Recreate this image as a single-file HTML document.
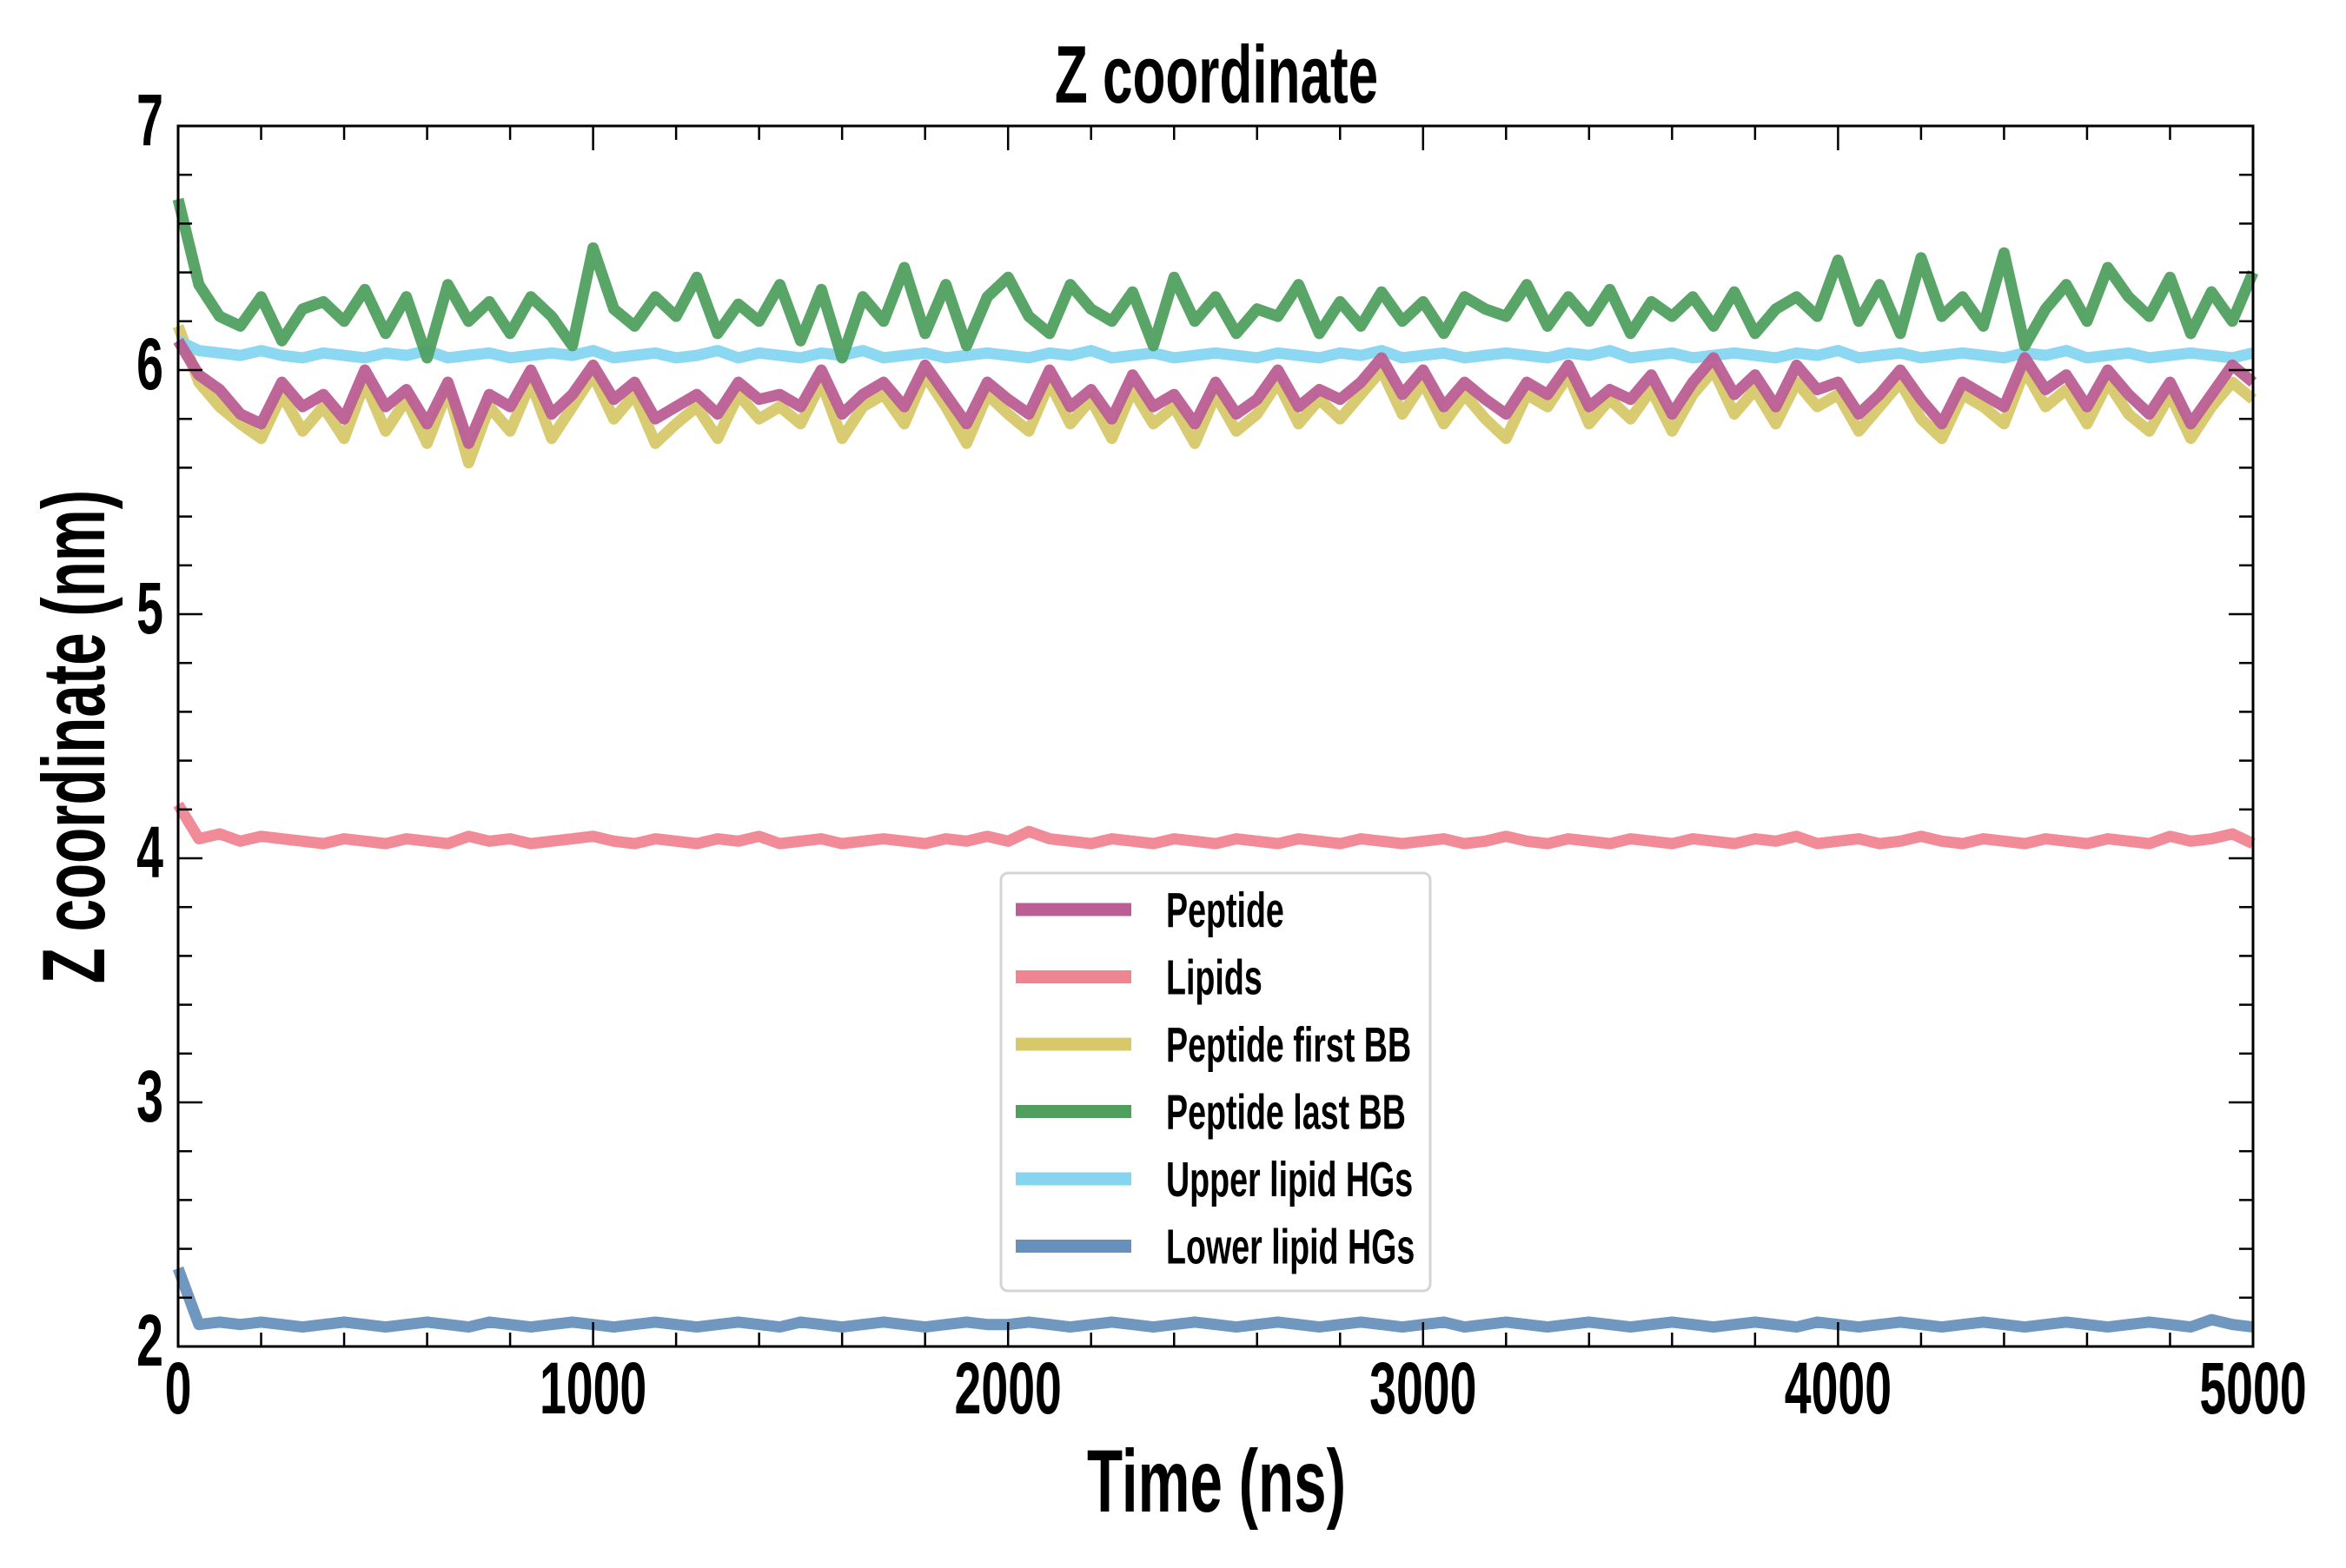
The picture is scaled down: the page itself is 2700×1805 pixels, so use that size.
<!DOCTYPE html>
<html><head><meta charset="utf-8"><style>
html,body{margin:0;padding:0;background:#fff;}
svg text{font-family:"Liberation Sans",sans-serif;font-weight:bold;fill:#000;}
</style></head><body>
<svg id="chart" width="2700" height="1800" xmlns="http://www.w3.org/2000/svg">
<rect width="2700" height="1800" fill="#fff"/>
<g id="series"></g>
<g id="axes"></g>
<text x="0" y="0" font-size="94" text-anchor="middle" transform="translate(1400,118) scale(0.66,1)">Z coordinate</text>
<text x="0" y="0" font-size="102" text-anchor="middle" transform="translate(1400,1740) scale(0.66,1)">Time (ns)</text>
<text x="0" y="0" font-size="102" text-anchor="middle" transform="translate(120,848) rotate(-90) scale(0.66,1)">Z coordinate (nm)</text>
<g id="legend"></g>
</svg>
<script>
const xTicks=[0,1000,2000,3000,4000,5000];
const yTicks=[2,3,4,5,6,7];
const seriesNames=["Peptide","Lipids","Peptide first BB","Peptide last BB","Upper lipid HGs","Lower lipid HGs"];
const green=[6.7,6.35,6.22,6.18,6.3,6.12,6.25,6.28,6.2,6.33,6.15,6.3,6.05,6.35,6.2,6.28,6.15,6.3,6.22,6.1,6.5,6.25,6.18,6.3,6.22,6.38,6.15,6.27,6.2,6.35,6.12,6.33,6.05,6.3,6.2,6.42,6.15,6.35,6.1,6.3,6.38,6.22,6.15,6.35,6.25,6.2,6.32,6.1,6.38,6.2,6.3,6.15,6.25,6.22,6.35,6.15,6.28,6.18,6.32,6.2,6.28,6.15,6.3,6.25,6.22,6.35,6.18,6.3,6.2,6.33,6.15,6.28,6.22,6.3,6.18,6.32,6.15,6.25,6.3,6.22,6.45,6.2,6.35,6.15,6.46,6.22,6.3,6.18,6.48,6.1,6.25,6.35,6.2,6.42,6.3,6.22,6.38,6.15,6.32,6.2,6.4];
const peptide=[6.12,5.98,5.92,5.82,5.78,5.95,5.85,5.9,5.8,6.0,5.85,5.92,5.78,5.95,5.7,5.9,5.85,6.0,5.82,5.9,6.02,5.88,5.95,5.8,5.85,5.9,5.82,5.95,5.88,5.9,5.85,6.0,5.82,5.9,5.95,5.85,6.02,5.9,5.78,5.95,5.88,5.82,6.0,5.85,5.92,5.8,5.98,5.85,5.9,5.78,5.95,5.82,5.88,6.0,5.85,5.92,5.88,5.95,6.05,5.9,6.0,5.85,5.95,5.88,5.82,5.95,5.9,6.02,5.85,5.92,5.88,5.98,5.82,5.95,6.05,5.9,5.98,5.85,6.02,5.92,5.95,5.82,5.9,6.0,5.88,5.78,5.95,5.9,5.85,6.05,5.92,5.98,5.85,6.0,5.9,5.82,5.95,5.78,5.9,6.02,5.95];
const firstBB=[6.18,5.95,5.85,5.78,5.72,5.9,5.75,5.85,5.72,5.95,5.75,5.88,5.7,5.92,5.62,5.85,5.75,5.95,5.72,5.85,5.98,5.8,5.9,5.7,5.78,5.85,5.72,5.9,5.8,5.85,5.78,5.95,5.72,5.85,5.9,5.78,5.98,5.85,5.7,5.9,5.82,5.75,5.95,5.78,5.88,5.72,5.92,5.78,5.85,5.7,5.9,5.75,5.82,5.95,5.78,5.88,5.8,5.9,6.0,5.82,5.95,5.78,5.9,5.8,5.72,5.9,5.85,5.98,5.78,5.88,5.8,5.92,5.75,5.9,6.0,5.82,5.92,5.78,5.95,5.85,5.9,5.75,5.85,5.95,5.8,5.72,5.9,5.85,5.78,6.0,5.85,5.92,5.78,5.95,5.82,5.75,5.9,5.72,5.85,5.95,5.88];
const upper=[6.12,6.08,6.07,6.06,6.08,6.06,6.05,6.07,6.06,6.05,6.07,6.06,6.08,6.05,6.06,6.07,6.05,6.06,6.07,6.06,6.08,6.05,6.06,6.07,6.05,6.06,6.08,6.05,6.07,6.06,6.05,6.07,6.06,6.08,6.05,6.06,6.07,6.05,6.06,6.07,6.06,6.05,6.07,6.06,6.08,6.05,6.06,6.07,6.05,6.06,6.07,6.06,6.05,6.07,6.06,6.05,6.07,6.06,6.08,6.05,6.06,6.07,6.05,6.06,6.07,6.06,6.05,6.07,6.06,6.08,6.05,6.06,6.07,6.05,6.06,6.07,6.06,6.05,6.07,6.06,6.08,6.05,6.06,6.07,6.05,6.06,6.07,6.06,6.05,6.07,6.06,6.08,6.05,6.06,6.07,6.05,6.06,6.07,6.06,6.05,6.07];
const lipids=[4.22,4.08,4.1,4.07,4.09,4.08,4.07,4.06,4.08,4.07,4.06,4.08,4.07,4.06,4.09,4.07,4.08,4.06,4.07,4.08,4.09,4.07,4.06,4.08,4.07,4.06,4.08,4.07,4.09,4.06,4.07,4.08,4.06,4.07,4.08,4.07,4.06,4.08,4.07,4.09,4.07,4.11,4.08,4.07,4.06,4.08,4.07,4.06,4.08,4.07,4.06,4.08,4.07,4.06,4.08,4.07,4.06,4.08,4.07,4.06,4.07,4.08,4.06,4.07,4.09,4.07,4.06,4.08,4.07,4.06,4.08,4.07,4.06,4.08,4.07,4.06,4.08,4.07,4.09,4.06,4.07,4.08,4.06,4.07,4.09,4.07,4.06,4.08,4.07,4.06,4.08,4.07,4.06,4.08,4.07,4.06,4.09,4.07,4.08,4.1,4.06];
const lower=[2.32,2.09,2.1,2.09,2.1,2.09,2.08,2.09,2.1,2.09,2.08,2.09,2.1,2.09,2.08,2.1,2.09,2.08,2.09,2.1,2.09,2.08,2.09,2.1,2.09,2.08,2.09,2.1,2.09,2.08,2.1,2.09,2.08,2.09,2.1,2.09,2.08,2.09,2.1,2.09,2.09,2.1,2.09,2.08,2.09,2.1,2.09,2.08,2.09,2.1,2.09,2.08,2.09,2.1,2.09,2.08,2.09,2.1,2.09,2.08,2.09,2.1,2.08,2.09,2.1,2.09,2.08,2.09,2.1,2.09,2.08,2.09,2.1,2.09,2.08,2.09,2.1,2.09,2.08,2.1,2.09,2.08,2.09,2.1,2.09,2.08,2.09,2.1,2.09,2.08,2.09,2.1,2.09,2.08,2.09,2.1,2.09,2.08,2.11,2.09,2.08];

const L=205,R=2593,T=145,B=1550;
const xMin=0,xMax=5000,yMin=2,yMax=7;
function xs(v){return L+(v-xMin)/(xMax-xMin)*(R-L);}
function ys(v){return B-(v-yMin)/(yMax-yMin)*(B-T);}
const NS="http://www.w3.org/2000/svg";
function mk(tag,attrs,parent){const e=document.createElementNS(NS,tag);for(const k in attrs)e.setAttribute(k,attrs[k]);parent.appendChild(e);return e;}

const colors={"Peptide":"#bb5e93","Lipids":"#f08592","Peptide first BB":"#d7c86a","Peptide last BB":"#4fa05f","Upper lipid HGs":"#86d5f0","Lower lipid HGs":"#6791bc"};
const dataByName={"Peptide":peptide,"Lipids":lipids,"Peptide first BB":firstBB,"Peptide last BB":green,"Upper lipid HGs":upper,"Lower lipid HGs":lower};
const drawOrder=["Peptide first BB","Upper lipid HGs","Peptide last BB","Peptide","Lipids","Lower lipid HGs"];
const sg=document.getElementById('series');
drawOrder.forEach(name=>{
  const arr=dataByName[name];
  const pts=arr.map((v,i)=>xs(i*(xMax-xMin)/(arr.length-1))+","+ys(v)).join(" ");
  const p=mk('polyline',{points:pts,fill:"none",stroke:colors[name],"stroke-width":13,"stroke-linejoin":"round","stroke-opacity":0.95},sg);
  
  
});

const ax=document.getElementById('axes');
const frame=mk('rect',{x:L,y:T,width:R-L,height:B-T,fill:"none",stroke:"#000","stroke-width":3},ax);


for(let v=0;v<=5000;v+=200){
  const major=v%1000===0,len=major?28:16,x=xs(v);
  mk('line',{x1:x,y1:B,x2:x,y2:B-len,stroke:"#000","stroke-width":2.5},ax);
  mk('line',{x1:x,y1:T,x2:x,y2:T+len,stroke:"#000","stroke-width":2.5},ax);
}
for(let k=0;k<=25;k++){
  const v=2+k*0.2,major=k%5===0,len=major?28:16,y=ys(v);
  mk('line',{x1:L,y1:y,x2:L+len,y2:y,stroke:"#000","stroke-width":2.5},ax);
  mk('line',{x1:R,y1:y,x2:R-len,y2:y,stroke:"#000","stroke-width":2.5},ax);
}
xTicks.forEach(v=>{
  const t=mk('text',{x:0,y:0,"font-size":84,"text-anchor":"middle",transform:"translate("+xs(v)+",1627) scale(0.66,1)"},ax);
  t.textContent=v;
  
  
});
yTicks.forEach(v=>{
  const t=mk('text',{x:0,y:0,"font-size":84,"text-anchor":"end",transform:"translate(188,"+(ys(v)+22)+") scale(0.66,1)"},ax);
  t.textContent=v;
  
  
});

const lg=document.getElementById('legend');
const box=mk('rect',{x:1152,y:1005,width:494,height:481,rx:8,fill:"#fff","fill-opacity":0.82,stroke:"#d4d4d4","stroke-width":3},lg);


seriesNames.forEach((name,i)=>{
  const y=1047+i*77.5;
  const ln=mk('line',{x1:1169,y1:y,x2:1302,y2:y,stroke:colors[name],"stroke-width":15},lg);
  
  
  const t=mk('text',{x:0,y:0,"font-size":57,transform:"translate(1342,"+(y+20)+") scale(0.66,1)"},lg);
  t.textContent=name;
  
  
});
</script>
</body></html>
